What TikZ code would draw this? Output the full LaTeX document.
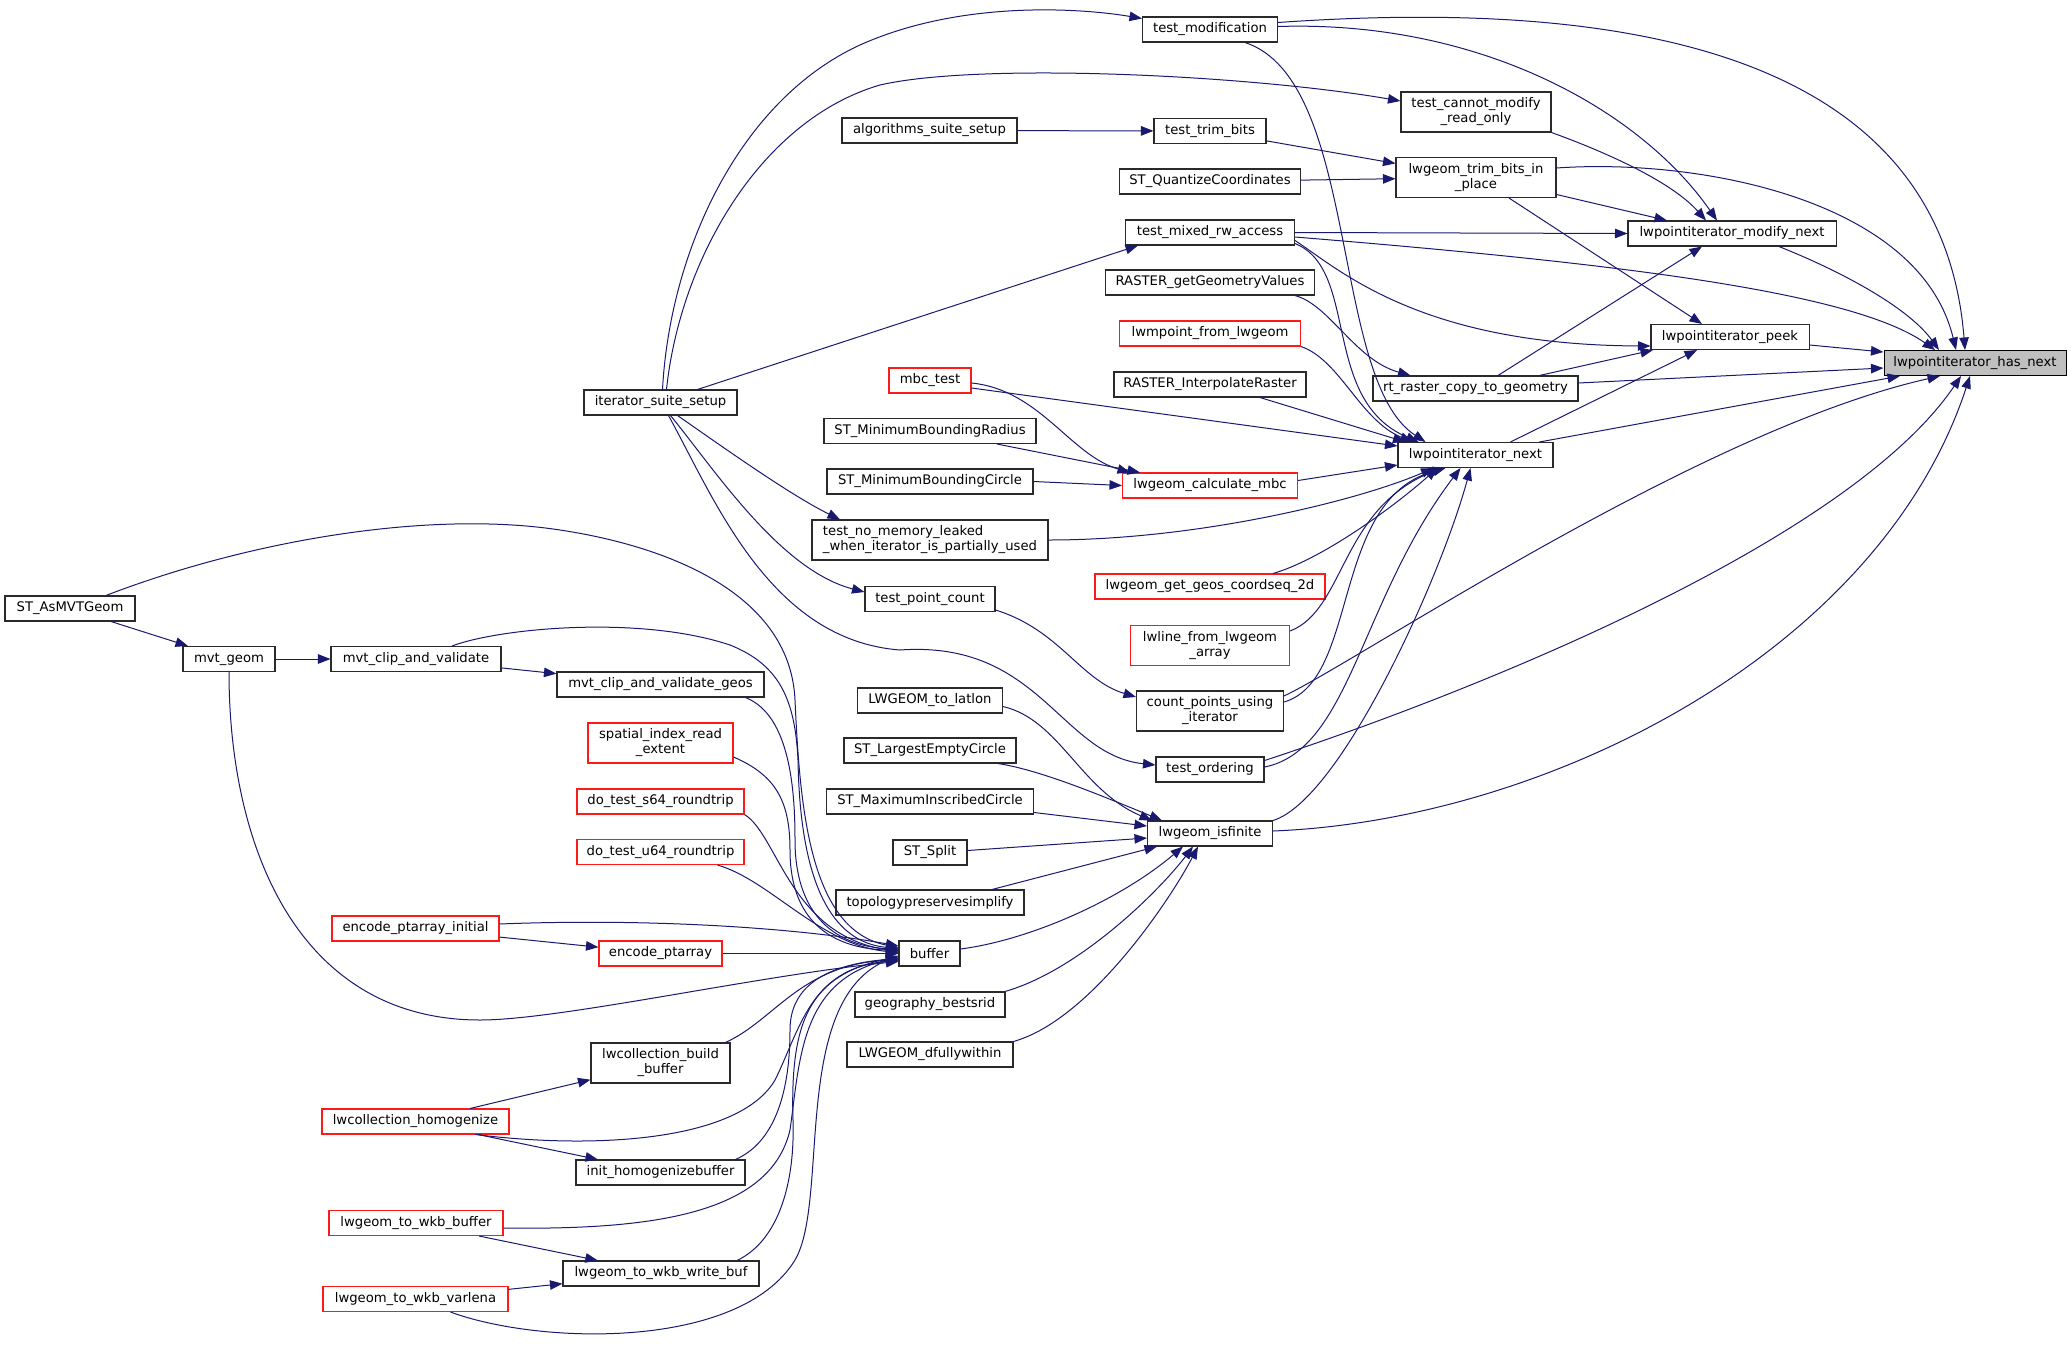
\documentclass[tikz,border=0pt]{standalone}
\usepackage{fontspec}
\newfontfamily\dgfont{DejaVu Sans}
\usetikzlibrary{arrows.meta}
\definecolor{edgec}{HTML}{191970}
\definecolor{rootfill}{HTML}{BFBFBF}
\definecolor{boxc}{HTML}{2A2A2A}
\definecolor{truncc}{HTML}{FF1A1A}
\begin{document}
\begin{tikzpicture}[x=1pt,y=-1pt,
  fn/.style={draw=boxc, line width=1.05pt, fill=white, font=\dgfont\fontsize{13.2pt}{15pt}\selectfont, inner xsep=2pt, inner ysep=0pt, minimum height=25pt, anchor=center},
  fn2/.style={fn, minimum height=40pt, align=center},
  trunc/.style={draw=truncc},
  rootnode/.style={fill=rootfill, draw=black},
  edge/.style={draw=edgec, line width=1pt, -{Triangle[length=12.5pt,width=9.5pt]}}]
\useasboundingbox (0,0) rectangle (2071,1349);
% ---------- nodes ----------
\node[fn,rootnode,minimum width=182pt] (hn) at (1975,363) {lwpointiterator\_has\_next};
\node[fn,minimum width=208pt] (mn) at (1732,233.5) {lwpointiterator\_modify\_next};
\node[fn,minimum width=158pt] (pk) at (1730,337) {lwpointiterator\_peek};
\node[fn,minimum width=135pt] (tm) at (1210,29.5) {test\_modification};
\node[fn2,minimum width=150pt] (tc) at (1476,112) {test\_cannot\_modify\\\_read\_only};
\node[fn,minimum width=112pt] (tt) at (1210,131) {test\_trim\_bits};
\node[fn,minimum width=175pt] (as) at (929.5,130.5) {algorithms\_suite\_setup};
\node[fn,minimum width=181pt] (qc) at (1210,181.5) {ST\_QuantizeCoordinates};
\node[fn2,minimum width=160pt] (tb) at (1476,177.5) {lwgeom\_trim\_bits\_in\\\_place};
\node[fn,minimum width=169pt] (mx) at (1210,232.5) {test\_mixed\_rw\_access};
\node[fn,minimum width=209pt] (gv) at (1210,282.5) {RASTER\_getGeometryValues};
\node[fn,trunc,minimum width=181pt] (mp) at (1210,333.5) {lwmpoint\_from\_lwgeom};
\node[fn,minimum width=205pt] (rc) at (1475.5,388.5) {rt\_raster\_copy\_to\_geometry};
\node[fn,minimum width=192pt] (ir) at (1210,384.5) {RASTER\_InterpolateRaster};
\node[fn,trunc,minimum width=82pt] (mb) at (930,380.5) {mbc\_test};
\node[fn,minimum width=153pt] (is) at (660.5,402.5) {iterator\_suite\_setup};
\node[fn,minimum width=155pt] (nx) at (1475.5,455) {lwpointiterator\_next};
\node[fn,minimum width=212pt] (mr) at (930,431) {ST\_MinimumBoundingRadius};
\node[fn,minimum width=206pt] (mc) at (930,481.5) {ST\_MinimumBoundingCircle};
\node[fn,trunc,minimum width=175pt] (cm) at (1210,485.5) {lwgeom\_calculate\_mbc};
\node[fn2,align=left,minimum width=236pt] (nm) at (930,540) {test\_no\_memory\_leaked\\\_when\_iterator\_is\_partially\_used};
\node[fn,trunc,minimum width=230pt] (gc) at (1210,586.5) {lwgeom\_get\_geos\_coordseq\_2d};
\node[fn,minimum width=130pt] (pc) at (930,599) {test\_point\_count};
\node[fn2,trunc,minimum width=159pt] (lf) at (1210,645.5) {lwline\_from\_lwgeom\\\_array};
\node[fn,minimum width=130pt] (am) at (70,608.5) {ST\_AsMVTGeom};
\node[fn,minimum width=92pt] (mg) at (229,659) {mvt\_geom};
\node[fn,minimum width=170pt] (cv) at (416,659) {mvt\_clip\_and\_validate};
\node[fn,minimum width=207pt] (cg) at (660.5,684.5) {mvt\_clip\_and\_validate\_geos};
\node[fn2,minimum width=147pt] (cp) at (1210,711) {count\_points\_using\\\_iterator};
\node[fn,minimum width=145pt] (ll) at (930,700.5) {LWGEOM\_to\_latlon};
\node[fn2,trunc,minimum width=145pt] (si) at (660.5,743) {spatial\_index\_read\\\_extent};
\node[fn,minimum width=172pt] (le) at (930,750.5) {ST\_LargestEmptyCircle};
\node[fn,minimum width=108pt] (to) at (1210,769.5) {test\_ordering};
\node[fn,trunc,minimum width=167pt] (s6) at (660.5,801.5) {do\_test\_s64\_roundtrip};
\node[fn,minimum width=207pt] (mi) at (930,801.5) {ST\_MaximumInscribedCircle};
\node[fn,minimum width=125pt] (fi) at (1210,833.5) {lwgeom\_isfinite};
\node[fn,trunc,minimum width=167pt] (u6) at (660.5,852) {do\_test\_u64\_roundtrip};
\node[fn,minimum width=74pt] (sp) at (930,852.5) {ST\_Split};
\node[fn,minimum width=188pt] (tp) at (930,902.5) {topologypreservesimplify};
\node[fn,trunc,minimum width=167pt] (ei) at (415.5,928.5) {encode\_ptarray\_initial};
\node[fn,minimum width=61pt] (bf) at (929.5,953.5) {buffer};
\node[fn,trunc,minimum width=123pt] (ep) at (660.5,953.5) {encode\_ptarray};
\node[fn,minimum width=150pt] (gb) at (930,1004.5) {geography\_bestsrid};
\node[fn2,minimum width=139pt] (cb) at (660.5,1063) {lwcollection\_build\\\_buffer};
\node[fn,minimum width=166pt] (df) at (930,1054.5) {LWGEOM\_dfullywithin};
\node[fn,trunc,minimum width=187pt] (ch) at (415.5,1121.5) {lwcollection\_homogenize};
\node[fn,minimum width=169pt] (ih) at (660.5,1172.5) {init\_homogenizebuffer};
\node[fn,trunc,minimum width=174pt] (wb) at (416,1223) {lwgeom\_to\_wkb\_buffer};
\node[fn,minimum width=196pt] (wf) at (661,1273.5) {lwgeom\_to\_wkb\_write\_buf};
\node[fn,trunc,minimum width=185pt] (wv) at (415.5,1299) {lwgeom\_to\_wkb\_varlena};
% ---------- edges: upper part ----------
\draw[edge] (as) -- (tt);
\draw[edge] (tt) -- (tb);
\draw[edge] (qc) -- (tb);
\draw[edge] ([yshift=9.5pt]tb.east) .. controls (1700,158) and (1920,200) .. ([xshift=-19pt]hn.north);
\draw[edge] ([yshift=-17pt]tb.east) -- ([xshift=-65pt]mn.north);
\draw[edge] ([xshift=33pt]tb.south) -- ([xshift=-28pt]pk.north);
\draw[edge] ([yshift=7pt]tm.east) .. controls (1600,0) and (1940,40) .. ([xshift=-10pt]hn.north);
\draw[edge] ([yshift=3pt]tm.east) .. controls (1480,20) and (1640,110) .. ([xshift=-15pt]mn.north);
\draw[edge] ([xshift=35pt]tm.south) .. controls (1360,80) and (1330,380) .. ([xshift=-50pt]nx.north);
\draw[edge] (tc.south east) .. controls (1600,150) and (1670,180) .. ([xshift=-26pt]mn.north);
\draw[edge] ([xshift=47pt]mn.south) .. controls (1850,275) and (1910,310) .. ([xshift=-36pt]hn.north);
\draw[edge] ([yshift=-8pt]pk.east) -- ([yshift=11pt]hn.west);
\draw[edge] ([yshift=5.5pt]rc.east) -- ([yshift=-5pt]hn.west);
\draw[edge] ([xshift=64pt]nx.north) -- ([xshift=-75pt]hn.south);
\draw[edge] ([yshift=-4.5pt]mx.east) .. controls (1600,262) and (1850,290) .. ([xshift=-40pt]hn.north);
\draw[edge] (mx.east) -- (mn.west);
\draw[edge] ([yshift=-8pt]mx.east) .. controls (1340,270) and (1420,345) .. ([yshift=-9pt]pk.west);
\draw[edge] ([yshift=-11pt]mx.east) .. controls (1360,270) and (1320,400) .. ([xshift=-57pt]nx.north);
\draw[edge] ([xshift=85pt]gv.south) .. controls (1330,305) and (1355,360) .. ([xshift=-65pt]rc.north);
\draw[edge] ([xshift=22.5pt]rc.north) -- ([xshift=-30pt]mn.south);
\draw[edge] ([xshift=64pt]rc.north) -- ([xshift=-77pt]pk.south);
\draw[edge] ([xshift=35pt]nx.north) -- ([xshift=-33pt]pk.south);
\draw[edge] (mp.south east) .. controls (1340,360) and (1360,420) .. ([xshift=-63pt]nx.north);
\draw[edge] ([xshift=50pt]ir.south) -- ([xshift=-70pt]nx.north);
\draw[edge] ([yshift=-7.5pt]mb.east) -- ([yshift=9pt]nx.west);
\draw[edge] ([yshift=-2.5pt]mb.east) .. controls (1040,390) and (1070,455) .. ([xshift=-80pt]cm.north);
\draw[edge] ([xshift=67pt]mr.south) -- ([xshift=-70pt]cm.north);
\draw[edge] (mc.east) -- (cm.west);
\draw[edge] ([yshift=5pt]cm.east) -- ([yshift=-10pt]nx.west);
% ---------- edges into next / has_next from below ----------
\draw[edge] (nm.east) .. controls (1200,540) and (1360,500) .. ([xshift=-42pt]nx.south);
\draw[edge] ([xshift=63pt]gc.north) .. controls (1320,560) and (1390,510) .. ([xshift=-38pt]nx.south);
\draw[edge] ([yshift=14.5pt]lf.east) .. controls (1345,610) and (1340,510) .. ([xshift=-34pt]nx.south);
\draw[edge] ([yshift=9pt]cp.east) .. controls (1360,680) and (1330,500) .. ([xshift=-30pt]nx.south);
\draw[edge] ([yshift=15pt]cp.east) .. controls (1360,660) and (1700,430) .. ([xshift=-35pt]hn.south);
\draw[edge] ([yshift=2.5pt]to.east) .. controls (1350,750) and (1360,600) .. ([xshift=-15pt]nx.south);
\draw[edge] ([yshift=9pt]to.east) .. controls (1480,690) and (1850,540) .. ([xshift=-14pt]hn.south);
\draw[edge] (fi.north east) .. controls (1340,800) and (1440,580) .. ([xshift=-5pt]nx.south);
\draw[edge] ([yshift=2.5pt]fi.east) .. controls (1550,820) and (1880,650) .. ([xshift=-5pt]hn.south);
\draw[edge] ([yshift=-11pt]pc.east) .. controls (1060,630) and (1080,680) .. ([yshift=14pt]cp.west);
% ---------- iterator_suite_setup ----------
\draw[edge] ([xshift=2pt]is.north) .. controls (670,250) and (740,100) .. (860,45) .. controls (960,0) and (1080,8) .. ([yshift=-2pt]tm.north west);
\draw[edge] ([xshift=6pt]is.north) .. controls (680,260) and (760,120) .. (880,85) .. controls (980,62) and (1250,75) .. ([yshift=11pt]tc.west);
\draw[edge] ([xshift=37pt]is.north) -- ([xshift=-72pt]mx.south);
\draw[edge] ([xshift=17pt]is.south) .. controls (720,445) and (790,495) .. ([xshift=-90pt]nm.north);
\draw[edge] ([xshift=10pt]is.south) .. controls (715,470) and (780,570) .. ([yshift=7pt]pc.west);
\draw[edge] ([xshift=8pt]is.south) .. controls (715,500) and (770,640) .. (900,650) .. controls (1040,640) and (1060,755) .. ([yshift=4.5pt]to.west);
% ---------- MVT / buffer region ----------
\draw[edge] (am) -- (mg);
\draw[edge] (mg) -- (cv);
\draw[edge] (cv) -- (cg);
\draw[edge] ([xshift=36pt]am.north) .. controls (250,540) and (430,510) .. (560,530) .. controls (660,545) and (790,590) .. (795,700) .. controls (800,810) and (810,930) .. ([yshift=6pt]bf.west);
\draw[edge] ([xshift=36pt]cv.north) .. controls (500,628) and (640,615) .. (730,645) .. controls (780,665) and (795,700) .. (798,760) .. controls (800,880) and (830,942) .. ([yshift=5pt]bf.west);
\draw[edge] ([xshift=85pt]cg.south) .. controls (790,715) and (795,790) .. (795,840) .. controls (795,910) and (830,945) .. ([yshift=4pt]bf.west);
\draw[edge] ([yshift=-14pt]si.east) .. controls (775,775) and (790,800) .. (790,850) .. controls (790,920) and (830,948) .. ([yshift=3pt]bf.west);
\draw[edge] (s6.south east) .. controls (778,835) and (790,935) .. ([yshift=2pt]bf.west);
\draw[edge] ([xshift=57pt]u6.south) .. controls (770,880) and (820,945) .. ([yshift=1pt]bf.west);
\draw[edge] ([yshift=4.5pt]ei.east) .. controls (650,918) and (800,928) .. ([yshift=7.5pt]bf.west);
\draw[edge] (ei) -- (ep);
\draw[edge] (ep) -- (bf);
\draw[edge] (mg.south) .. controls (229,850) and (300,1020) .. (480,1020) .. controls (560,1020) and (760,975) .. ([yshift=-8pt]bf.west);
\draw[edge] ([xshift=65pt]cb.north) .. controls (775,1020) and (800,965) .. ([yshift=-6pt]bf.west);
\draw[edge] (ch) -- (cb);
\draw[edge] (ch) -- (ih);
\draw[edge] ([xshift=60pt]ch.south) .. controls (600,1150) and (740,1140) .. (775,1080) .. controls (800,1030) and (810,968) .. ([yshift=-7pt]bf.west);
\draw[edge] ([xshift=75pt]ih.north) .. controls (780,1140) and (790,1080) .. (790,1030) .. controls (790,990) and (820,965) .. ([yshift=-5pt]bf.west);
\draw[edge] ([yshift=-5pt]wb.east) .. controls (650,1230) and (770,1215) .. (790,1130) .. controls (800,1060) and (800,980) .. ([yshift=-4pt]bf.west);
\draw[edge] (wb) -- (wf);
\draw[edge] ([xshift=76pt]wf.north) .. controls (780,1240) and (795,1180) .. (793,1120) .. controls (790,1020) and (810,975) .. ([yshift=-3pt]bf.west);
\draw[edge] (wv) -- (wf);
\draw[edge] ([xshift=35pt]wv.south) .. controls (540,1345) and (740,1350) .. (795,1260) .. controls (830,1200) and (790,1000) .. ([yshift=-2pt]bf.west);
% ---------- into lwgeom_isfinite ----------
\draw[edge] ([yshift=4.5pt]bf.east) .. controls (1030,940) and (1120,900) .. ([xshift=-27pt]fi.south);
\draw[edge] ([yshift=-6pt]ll.east) .. controls (1060,720) and (1080,790) .. ([xshift=-58pt]fi.north);
\draw[edge] ([xshift=68pt]le.south) .. controls (1040,770) and (1100,795) .. ([xshift=-48pt]fi.north);
\draw[edge] ([yshift=-11pt]mi.east) -- ([yshift=7.5pt]fi.west);
\draw[edge] ([yshift=2pt]sp.east) -- ([yshift=-4.5pt]fi.west);
\draw[edge] ([xshift=62pt]tp.north) -- ([xshift=-53pt]fi.south);
\draw[edge] ([xshift=75pt]gb.north) .. controls (1080,970) and (1160,890) .. ([xshift=-17pt]fi.south);
\draw[edge] (df.north east) .. controls (1090,1020) and (1170,900) .. ([xshift=-12pt]fi.south);
\end{tikzpicture}
\end{document}
